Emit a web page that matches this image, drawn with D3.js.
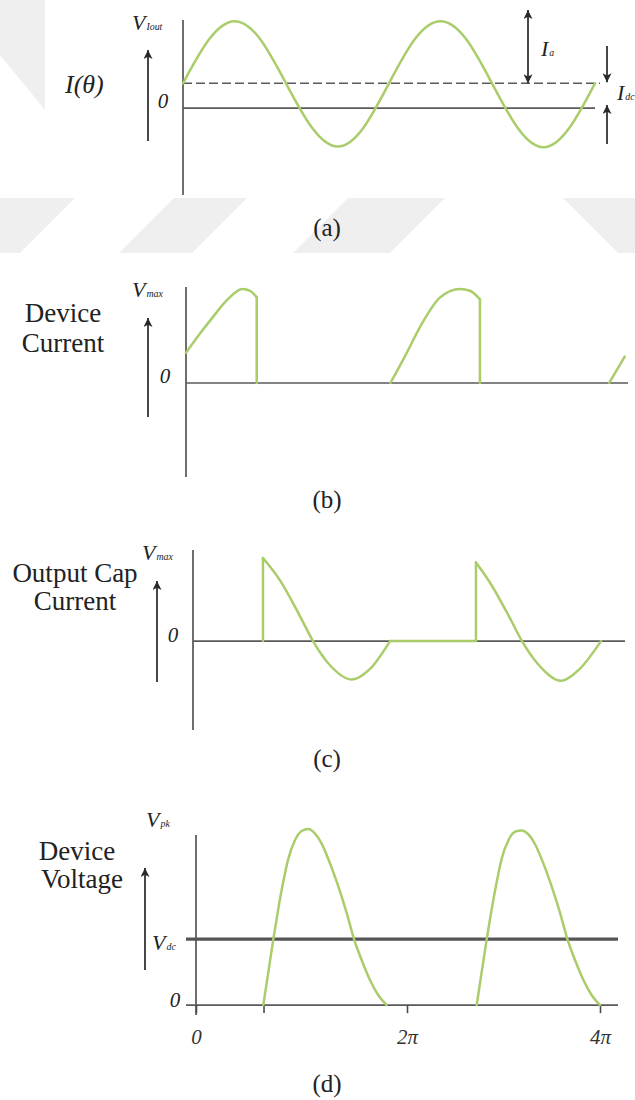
<!DOCTYPE html>
<html>
<head>
<meta charset="utf-8">
<script src="https://cdn.jsdelivr.net/npm/d3@7"></script>
<style>
  body { margin: 0; background: #fff; }
  svg { display: block; }
  svg text { font-family: "Liberation Serif", "DejaVu Serif", serif; }
</style>
</head>
<body>
<svg id="fig" width="635" height="1100"></svg>
<script>
// Angles are given in units of π (θ/π); values are normalised per panel.
const thetaTickValues = [0, 0.64, 2, 4];
const thetaTickLabels = ["0", "", "2π", "4π"];

// (a) load current I(θ) = I_dc + I_a·sin θ
const loadCurrent = [
  [0, 0.40], [0.25, 1.10], [0.5, 1.40], [0.75, 1.11], [1, 0.40], [1.25, -0.31], [1.5, -0.62], [1.75, -0.32],
  [2, 0.40], [2.25, 1.11], [2.5, 1.40], [2.75, 1.11], [3, 0.40], [3.25, -0.32], [3.5, -0.63], [3.75, -0.32], [4, 0.40]
];
const loadDC = 0.40;

// (b) device current: conduction pulses, each ending in a sharp turn-off
const devicePulses = [
  [[0, 0.32], [0.13, 0.53], [0.25, 0.71], [0.37, 0.88], [0.51, 1.0], [0.58, 0.98], [0.64, 0.91]],
  [[1.85, 0], [1.98, 0.28], [2.12, 0.60], [2.30, 0.91], [2.48, 1.0], [2.57, 0.98], [2.66, 0.89]],
  [[3.83, 0], [3.97, 0.28]]
];
const deviceTurnOffs = [0, 1]; // pulses that end with a drop to zero

// (c) output capacitor current while the switch is open
const capLobes = [
  [[0.657, 1.34], [0.817, 0.98], [1.005, 0.40], [1.127, 0], [1.286, -0.39], [1.493, -0.62], [1.662, -0.45], [1.850, 0]],
  [[2.657, 1.27], [2.779, 0.97], [2.967, 0.40], [3.089, 0], [3.249, -0.39], [3.455, -0.64], [3.624, -0.46], [3.831, 0]]
];
const capIdle = [[1.850, 0], [2.657, 0]];

// (d) device voltage humps relative to V_dc
const switchVoltage = [
  [[0.638, 0], [0.733, 1.0], [0.780, 1.46], [0.827, 1.87], [0.875, 2.22], [0.938, 2.50], [1.002, 2.64], [1.064, 2.67],
   [1.128, 2.60], [1.191, 2.45], [1.270, 2.15], [1.349, 1.80], [1.428, 1.40], [1.498, 1.0], [1.571, 0.68],
   [1.649, 0.38], [1.728, 0.15], [1.808, 0]],
  [[2.722, 0], [2.826, 1.0], [2.878, 1.46], [2.930, 1.87], [2.981, 2.22], [3.051, 2.50], [3.120, 2.63], [3.188, 2.65],
   [3.258, 2.59], [3.327, 2.44], [3.413, 2.15], [3.499, 1.80], [3.586, 1.40], [3.662, 1.0], [3.742, 0.68],
   [3.828, 0.38], [3.914, 0.15], [4.0, 0]]
];
const supplyVdc = 1;

const GREEN = "#a9cd6b";
const INK = "#4a4a4a";

const svg = d3.select("#fig");

// faint watermark bands behind the top figure
const bands = [
  [[0, 0], [45, 0], [45, 110], [0, 55]],
  [[0, 198], [75, 198], [20, 253], [0, 253]],
  [[174, 198], [247, 198], [192, 253], [119, 253]],
  [[348, 198], [445, 198], [390, 253], [293, 253]],
  [[563, 198], [635, 198], [635, 253], [618, 253]]
];
svg.append("g").selectAll("polygon").data(bands).join("polygon")
  .attr("points", d => d.map(p => p.join(",")).join(" "))
  .attr("fill", "#efefef");
svg.append("rect").attr("x", 45).attr("y", 0).attr("width", 590).attr("height", 198).attr("fill", "#fff");

// arrow heads
const defs = svg.append("defs");
defs.append("marker").attr("id", "head")
  .attr("viewBox", "0 0 10 10").attr("refX", 10).attr("refY", 5)
  .attr("markerWidth", 16).attr("markerHeight", 9).attr("markerUnits", "userSpaceOnUse")
  .attr("orient", "auto-start-reverse")
  .append("path").attr("d", "M0,0 L10,5 L0,10 L2.5,5 Z").attr("fill", "#2a2a2a");

function arrow(x, y1, y2, both) {
  const l = svg.append("line").attr("x1", x).attr("x2", x).attr("y1", y1).attr("y2", y2)
    .attr("stroke", "#333").attr("stroke-width", 1.8).attr("marker-end", "url(#head)");
  if (both) l.attr("marker-start", "url(#head)");
}

function text(x, y, str, size, opts = {}) {
  return svg.append("text").attr("x", x).attr("y", y)
    .attr("font-size", size)
    .attr("font-style", opts.italic ? "italic" : "normal")
    .attr("text-anchor", opts.anchor || "start")
    .attr("fill", "#222").text(str);
}

function symbol(x, y, main, sub, size) {
  const t = svg.append("text").attr("x", x).attr("y", y)
    .attr("font-size", size).attr("font-style", "italic").attr("fill", "#222");
  t.append("tspan").text(main);
  t.append("tspan").attr("font-size", size * 0.45).attr("dx", 1).text(sub);
  return t;
}

function hline(x1, x2, y, w, color, dash) {
  const l = svg.append("line").attr("x1", x1).attr("x2", x2).attr("y1", y).attr("y2", y)
    .attr("stroke", color).attr("stroke-width", w);
  if (dash) l.attr("stroke-dasharray", dash);
}

function vaxis(x, yTop, yBot) {
  svg.append("line").attr("x1", x).attr("x2", x).attr("y1", yTop).attr("y2", yBot)
    .attr("stroke", INK).attr("stroke-width", 1.6);
}

function trace(data, xs, ys, curve) {
  svg.append("path").datum(data)
    .attr("d", d3.line().x(d => xs(d[0])).y(d => ys(d[1])).curve(curve || d3.curveLinear))
    .attr("fill", "none").attr("stroke", GREEN).attr("stroke-width", 2.5)
    .attr("stroke-linejoin", "round").attr("stroke-linecap", "round");
}

// ---------- (a) ----------
const xA = d3.scaleLinear().domain([0, 4]).range([183, 595]);
const yA = d3.scaleLinear().domain([-1.4, 1.42]).range([195, 20]);
vaxis(xA(0), yA.range()[1], yA.range()[0]);
hline(xA(0), xA(4), yA(0), 1.6, "#5a5a5a");
hline(xA(0), xA(4) + 5, yA(loadDC), 1.5, "#5a5a5a", "9,4");
trace(loadCurrent, xA, yA, d3.curveNatural);
arrow(148, 141, 50);
text(65, 93, "I(θ)", 26, { italic: true });
text(163, 108, "0", 21, { italic: true, anchor: "middle" });
symbol(132, 30, "V", "Iout", 22);
arrow(528, 10, yA(loadDC), true);
symbol(541, 56, "I", "a", 22);
arrow(607, 46, yA(loadDC) - 1);
arrow(607, 144, yA(0) - 3);
symbol(617, 100, "I", "dc", 22);
text(327, 236, "(a)", 25, { anchor: "middle" });

// ---------- (b) ----------
const xB = d3.scaleLinear().domain([0, 4]).range([186, 628]);
const yB = d3.scaleLinear().domain([-1, 1.02]).range([477, 287]);
vaxis(xB(0), yB.range()[1], yB.range()[0]);
hline(xB(0), xB(4), yB(0), 1.6, "#5a5a5a");
devicePulses.forEach(p => trace(p, xB, yB, d3.curveMonotoneX));
deviceTurnOffs.forEach(i => {
  const last = devicePulses[i][devicePulses[i].length - 1];
  trace([last, [last[0], 0]], xB, yB);
});
arrow(148, 417, 318);
text(63, 322, "Device", 27, { anchor: "middle" });
text(63, 352, "Current", 27, { anchor: "middle" });
text(165, 383, "0", 21, { italic: true, anchor: "middle" });
symbol(132, 297, "V", "max", 22);
text(327, 508, "(b)", 25, { anchor: "middle" });

// ---------- (c) ----------
const xC = d3.scaleLinear().domain([0, 4]).range([193, 619]);
const yC = d3.scaleLinear().domain([-1.435, 1.47]).range([730, 550]);
vaxis(xC(0), yC.range()[1], yC.range()[0]);
hline(xC(0), xC(4) + 6, yC(0), 1.6, "#5a5a5a");
trace(capIdle, xC, yC);
capLobes.forEach(l => {
  trace([[l[0][0], 0], l[0]], xC, yC);
  trace(l, xC, yC, d3.curveMonotoneX);
});
arrow(157, 682, 581);
text(75, 582, "Output Cap", 27, { anchor: "middle" });
text(75, 610, "Current", 27, { anchor: "middle" });
text(173, 642, "0", 21, { italic: true, anchor: "middle" });
symbol(142, 560, "V", "max", 22);
text(327, 767, "(c)", 25, { anchor: "middle" });

// ---------- (d) ----------
const xD = d3.scaleLinear().domain([0, 2, 4]).range([196, 407, 600]);
const yD = d3.scaleLinear().domain([-0.15, 2.58]).range([1015, 835]);
vaxis(xD(0), yD.range()[1], yD.range()[0]);
hline(xD(0) - 10, xD(4) + 18, yD(0), 1.6, "#5a5a5a");
hline(xD(0) - 10, xD(4) + 18, yD(supplyVdc), 3.2, "#555");
const axD = svg.append("g").attr("transform", `translate(0,${yD(0)})`)
  .call(d3.axisBottom(xD).tickValues(thetaTickValues)
    .tickFormat((d, i) => thetaTickLabels[i]).tickSize(8).tickPadding(16));
axD.select(".domain").remove();
axD.attr("font-family", null);
axD.selectAll(".tick line").attr("stroke", INK).attr("stroke-width", 1.6);
axD.selectAll(".tick text").attr("font-size", 21)
  .attr("font-style", "italic").attr("fill", "#333");
switchVoltage.forEach(h => trace(h, xD, yD, d3.curveMonotoneX));
arrow(145, 970, 868);
text(77, 860, "Device", 27, { anchor: "middle" });
text(82, 888, "Voltage", 27, { anchor: "middle" });
text(175, 1007, "0", 21, { italic: true, anchor: "middle" });
symbol(146, 827, "V", "pk", 22);
symbol(152, 950, "V", "dc", 22);
text(327, 1092, "(d)", 25, { anchor: "middle" });
</script>
</body>
</html>
